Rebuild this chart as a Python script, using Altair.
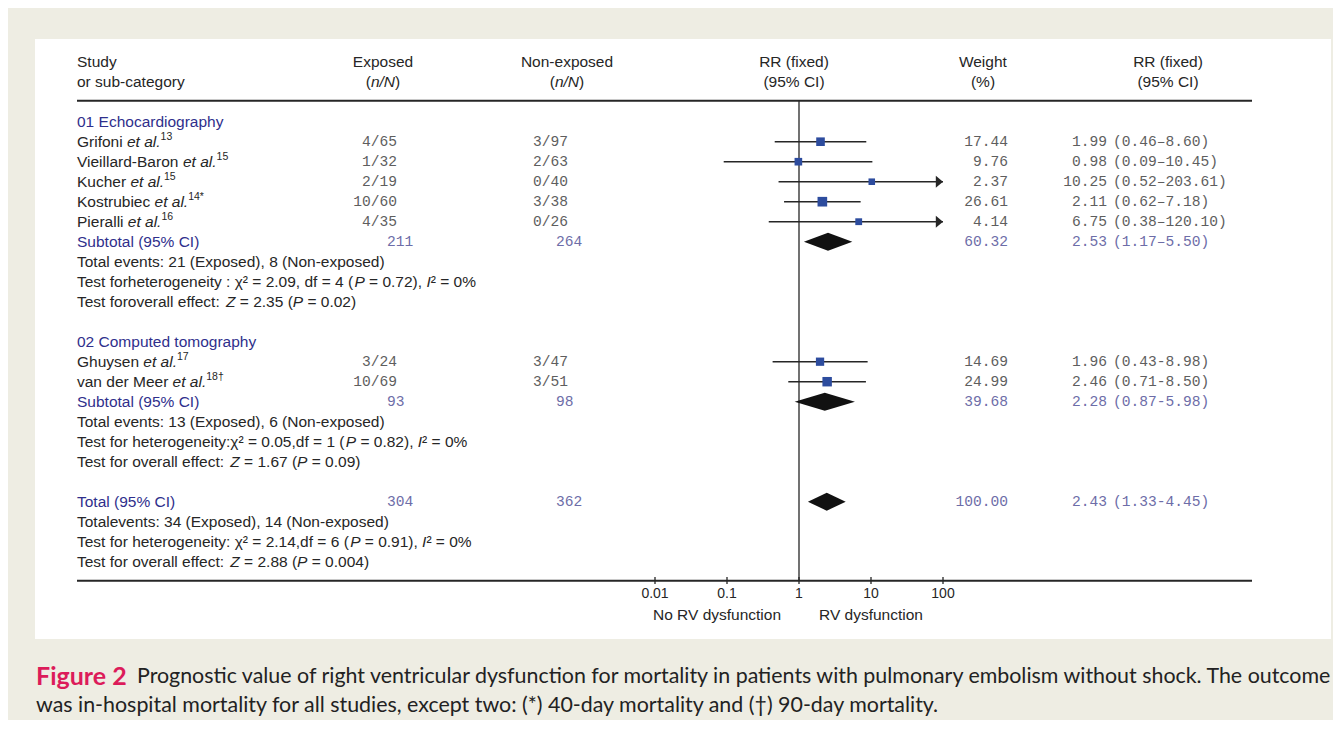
import altair as alt
import pandas as pd

# ---------------- data ----------------
group_titles = ["01 Echocardiography", "02 Computed tomography"]

study_names = ["Grifoni", "Vieillard-Baron", "Kucher", "Kostrubiec", "Pieralli", "Ghuysen", "van der Meer"]
study_refs = ["13", "15", "15", "14*", "16", "17", "18†"]
study_group = [1, 1, 1, 1, 1, 2, 2]
exp_events = [4, 1, 2, 10, 4, 3, 10]
exp_total = [65, 32, 19, 60, 35, 24, 69]
non_events = [3, 2, 0, 3, 0, 3, 3]
non_total = [97, 63, 40, 38, 26, 47, 51]
weights = [17.44, 9.76, 2.37, 26.61, 4.14, 14.69, 24.99]
rr = [1.99, 0.98, 10.25, 2.11, 6.75, 1.96, 2.46]
rr_lo = [0.46, 0.09, 0.52, 0.62, 0.38, 0.43, 0.71]
rr_hi = [8.60, 10.45, 203.61, 7.18, 120.10, 8.98, 8.50]

summary_labels = ["Subtotal (95% CI)", "Subtotal (95% CI)", "Total (95% CI)"]
summary_exp = [211, 93, 304]
summary_non = [264, 98, 362]
summary_weight = [60.32, 39.68, 100.00]
summary_rr = [2.53, 2.28, 2.43]
summary_lo = [1.17, 0.87, 1.33]
summary_hi = [5.50, 5.98, 4.45]
ci_dash = ["–", "-", "-"]

events_lines = [
    "Total events: 21 (Exposed), 8 (Non-exposed)",
    "Total events: 13 (Exposed), 6 (Non-exposed)",
    "Totalevents: 34 (Exposed), 14 (Non-exposed)",
]
het_lines = [
    "Test forheterogeneity : χ² = 2.09, df = 4 (_P_ = 0.72), _I_² = 0%",
    "Test for heterogeneity:χ² = 0.05,df = 1 (_P_ = 0.82), _I_² = 0%",
    "Test for heterogeneity: χ² = 2.14,df = 6 (_P_ = 0.91), _I_² = 0%",
]
effect_lines = [
    "Test foroverall effect: _Z_ = 2.35 (_P_ = 0.02)",
    "Test for overall effect: _Z_ = 1.67 (_P_ = 0.09)",
    "Test for overall effect: _Z_ = 2.88 (_P_ = 0.004)",
]

axis_ticks = [0.01, 0.1, 1, 10, 100]
axis_tick_labels = ["0.01", "0.1", "1", "10", "100"]
axis_left_label = "No RV dysfunction"
axis_right_label = "RV dysfunction"

caption_label = "Figure 2"
caption_lines = [
    "Prognostic value of right ventricular dysfunction for mortality in patients with pulmonary embolism without shock. The outcome",
    "was in-hospital mortality for all studies, except two: (*) 40-day mortality and (†) 90-day mortality.",
]

# ---------------- style ----------------
SANS = "Liberation Sans"
MONOF = "Liberation Mono"
CAPF = "Lato"
FS = 15.5
SUP = 10.5
MONO = 14.6
MONO_W = 0.6 * MONO
INK = "#262626"
BLUE = "#2f2f8c"
SOFT = "#6d6da8"
GRAY = "#5e5e5e"
SQ = "#2d4c9e"
RED = "#dc1b5a"
BG = "#eeede3"

W, H = 1325, 712

# Arial / Liberation Sans advance widths (1/1000 em)
AW = {" ": 278, "(": 333, ")": 333, "*": 389, ",": 278, "-": 333, ".": 278, "/": 278,
      ":": 278, ";": 278, "=": 584, "%": 889, "²": 333, "χ": 500, "†": 556, "–": 556}
AW.update({d: 556 for d in "0123456789"})
AW.update(dict(zip("abcdefghijklmnopqrstuvwxyz",
                   [556, 556, 500, 556, 556, 278, 556, 556, 222, 222, 500, 222, 833,
                    556, 556, 556, 556, 333, 500, 278, 556, 500, 722, 500, 500, 500])))
AW.update(dict(zip("ABCDEFGHIJKLMNOPQRSTUVWXYZ",
                   [667, 667, 722, 722, 667, 611, 778, 722, 278, 500, 667, 556, 833,
                    722, 778, 667, 778, 722, 667, 611, 722, 667, 944, 667, 667, 611])))


def text_width(s, size):
    return sum(AW.get(c, 556) for c in s) * size / 1000.0


def parse(s):
    return [(p, "i" if k % 2 else "n") for k, p in enumerate(s.split("_")) if p]


seg_rows = []
num_rows = []


def add_line(row, parts, x0, color, anchor="left"):
    sizes = [SUP if st == "s" else FS for _, st in parts]
    ws = [text_width(t, sz) for (t, _), sz in zip(parts, sizes)]
    x = x0 - sum(ws) / 2 if anchor == "center" else x0
    for (t, st), w, sz in zip(parts, ws, sizes):
        lead = len(t) - len(t.lstrip(" "))
        body = t.strip(" ")
        if body:
            seg_rows.append(dict(row=row, x=x + lead * AW[" "] * sz / 1000.0,
                                 text=body, style=st, color=color))
        x += w


def add_num(row, text, x, color, anchor="left"):
    if anchor == "right":
        x = x - len(text) * MONO_W
    num_rows.append(dict(row=row, x=x, text=text, color=color))


X_STUDY = 69
X_EXP_R, X_EXP_SUB = 389, 379
X_NON, X_NON_SUB = 525, 548
X_W_R = 1000
X_RR_R, X_CI = 1099, 1105

# header
add_line(-3, [("Study", "n")], X_STUDY, INK)
add_line(-2, [("or sub-category", "n")], X_STUDY, INK)
for cx, top in [(375, "Exposed"), (559, "Non-exposed")]:
    add_line(-3, [(top, "n")], cx, INK, "center")
    add_line(-2, [("(", "n"), ("n/N", "i"), (")", "n")], cx, INK, "center")
for cx, top, bot in [(786, "RR (fixed)", "(95% CI)"), (975, "Weight", "(%)"),
                     (1160, "RR (fixed)", "(95% CI)")]:
    add_line(-3, [(top, "n")], cx, INK, "center")
    add_line(-2, [(bot, "n")], cx, INK, "center")

forest = []
summ = []


def add_summary(k, r):
    add_line(r, [(summary_labels[k], "n")], X_STUDY, BLUE)
    add_num(r, str(summary_exp[k]), X_EXP_SUB, SOFT)
    add_num(r, str(summary_non[k]), X_NON_SUB, SOFT)
    add_num(r, f"{summary_weight[k]:.2f}", X_W_R, SOFT, "right")
    add_num(r, f"{summary_rr[k]:.2f}", X_RR_R, SOFT, "right")
    add_num(r, f"({summary_lo[k]:.2f}{ci_dash[k]}{summary_hi[k]:.2f})", X_CI, SOFT)
    summ.append(dict(id=k, x=summary_lo[k], y=r, y2=r))
    summ.append(dict(id=k, x=summary_rr[k], y=r - 0.45, y2=r + 0.45))
    summ.append(dict(id=k, x=summary_hi[k], y=r, y2=r))
    add_line(r + 1, [(events_lines[k], "n")], X_STUDY, INK)
    add_line(r + 2, parse(het_lines[k]), X_STUDY, INK)
    add_line(r + 3, parse(effect_lines[k]), X_STUDY, INK)


r = 0
for g in range(2):
    add_line(r, [(group_titles[g], "n")], X_STUDY, BLUE)
    r += 1
    for i in range(len(study_names)):
        if study_group[i] != g + 1:
            continue
        add_line(r, [(study_names[i] + " ", "n"), ("et al.", "i"), (study_refs[i], "s")], X_STUDY, INK)
        add_num(r, f"{exp_events[i]}/{exp_total[i]}", X_EXP_R, GRAY, "right")
        add_num(r, f"{non_events[i]}/{non_total[i]}", X_NON, GRAY)
        add_num(r, f"{weights[i]:.2f}", X_W_R, GRAY, "right")
        add_num(r, f"{rr[i]:.2f}", X_RR_R, GRAY, "right")
        add_num(r, f"({rr_lo[i]:.2f}{ci_dash[g]}{rr_hi[i]:.2f})", X_CI, GRAY)
        forest.append(dict(row=r, rr=rr[i], lo=max(rr_lo[i], axis_ticks[0]),
                           hi=min(rr_hi[i], axis_ticks[-1]), w=weights[i],
                           arrow=rr_hi[i] > axis_ticks[-1]))
        r += 1
    add_summary(g, r)
    r += 5
add_summary(2, r)

seg = pd.DataFrame(seg_rows)
num = pd.DataFrame(num_rows)
fdf = pd.DataFrame(forest)
sdf = pd.DataFrame(summ)
tdf = pd.DataFrame({"v": axis_ticks, "lab": axis_tick_labels})
one = pd.DataFrame({"one": [1]})

xscale = alt.Scale(type="log", domain=[axis_ticks[0], axis_ticks[-1]], range=[647, 935])
yscale = alt.Scale(domain=[0, 20], range=[113.7, 513.7])
Y = lambda f: alt.Y(f, scale=yscale, axis=None)
XL = lambda f: alt.X(f, scale=xscale, axis=None)
XN = alt.X("x:Q", scale=None, axis=None)

panel = alt.Chart(one).mark_rect(color="white").encode(
    x=alt.value(27), x2=alt.value(1323), y=alt.value(31), y2=alt.value(631))
top_rule = alt.Chart(one).mark_rule(color=INK, strokeWidth=2).encode(
    x=alt.value(69), x2=alt.value(1244), y=alt.value(92.7))
bot_rule = alt.Chart(one).mark_rule(color=INK, strokeWidth=2).encode(
    x=alt.value(69), x2=alt.value(1244), y=alt.value(572.7))
ref_line = alt.Chart(one).mark_rule(color=INK, strokeWidth=1.3).encode(
    x=XL("one:Q"), y=alt.value(92.7), y2=alt.value(572.7))
ticks = alt.Chart(tdf).mark_rule(color=INK, strokeWidth=1.3).encode(
    x=XL("v:Q"), y=alt.value(569), y2=alt.value(576))
tick_labels = alt.Chart(tdf).mark_text(
    align="center", baseline="middle", font=SANS, fontSize=14, color=INK).encode(
    x=XL("v:Q"), y=alt.value(585.5), text="lab:N")

ci = alt.Chart(fdf).mark_rule(color=INK, strokeWidth=1.6).encode(
    x=XL("lo:Q"), x2="hi:Q", y=Y("row:Q"))
arrows = alt.Chart(fdf).transform_filter("datum.arrow").mark_point(
    shape="M-0.9,-0.75L0,0L-0.9,0.75Z", filled=True, size=256, color=INK, opacity=1).encode(
    x=XL("hi:Q"), y=Y("row:Q"))
squares = alt.Chart(fdf).mark_square(filled=True, color=SQ, opacity=1).encode(
    x=XL("rr:Q"), y=Y("row:Q"),
    size=alt.Size("w:Q", scale=alt.Scale(domain=[0, 30], range=[38, 100]), legend=None))
diamonds = alt.Chart(sdf).mark_area(color="#111111", orient="vertical", opacity=1).encode(
    x=XL("x:Q"),
    y=alt.Y("y:Q", scale=yscale, axis=None, stack=None), y2="y2:Q", detail="id:N")


def seg_layer(style, **kw):
    return alt.Chart(seg).transform_filter(f"datum.style == '{style}'").mark_text(
        align="left", baseline="middle", font=SANS, **kw).encode(
        x=XN, y=Y("row:Q"), text="text:N", color=alt.Color("color:N", scale=None))


t_norm = seg_layer("n", fontSize=FS)
t_ital = seg_layer("i", fontSize=FS, fontStyle="italic")
t_sup = seg_layer("s", fontSize=SUP, dy=-5)
t_num = alt.Chart(num).mark_text(align="left", baseline="middle", font=MONOF, fontSize=MONO).encode(
    x=XN, y=Y("row:Q"), text="text:N", color=alt.Color("color:N", scale=None))

lab_df = pd.DataFrame({"t": [axis_left_label, axis_right_label]})
lab_l = alt.Chart(lab_df).transform_filter(f"datum.t == '{axis_left_label}'").mark_text(
    align="center", baseline="middle", font=SANS, fontSize=FS, color=INK).encode(
    x=alt.value(709), y=alt.value(607), text="t:N")
lab_r = alt.Chart(lab_df).transform_filter(f"datum.t == '{axis_right_label}'").mark_text(
    align="center", baseline="middle", font=SANS, fontSize=FS, color=INK).encode(
    x=alt.value(863), y=alt.value(607), text="t:N")

cap_df = pd.DataFrame({"t": [caption_label] + caption_lines, "k": [0, 1, 2]})
cap0 = alt.Chart(cap_df).transform_filter("datum.k == 0").mark_text(
    align="left", baseline="middle", font=CAPF, fontSize=25, fontWeight="bold", color=RED).encode(
    x=alt.value(28), y=alt.value(668.5), text="t:N")
cap1 = alt.Chart(cap_df).transform_filter("datum.k == 1").mark_text(
    align="left", baseline="middle", font=CAPF, fontSize=21.4, color="#222222").encode(
    x=alt.value(129), y=alt.value(669), text="t:N")
cap2 = alt.Chart(cap_df).transform_filter("datum.k == 2").mark_text(
    align="left", baseline="middle", font=CAPF, fontSize=21.4, color="#222222").encode(
    x=alt.value(28), y=alt.value(698), text="t:N")

chart = alt.layer(
    panel, top_rule, bot_rule, ref_line, ticks, tick_labels, ci, arrows, squares, diamonds,
    t_norm, t_ital, t_sup, t_num, lab_l, lab_r, cap0, cap1, cap2
).resolve_scale(x="independent").properties(
    width=W, height=H, background=BG, padding=0,
    autosize=alt.AutoSizeParams(type="none")
).configure_view(stroke=None)

chart.save("out.html", embed_options={"renderer": "svg", "actions": False})
